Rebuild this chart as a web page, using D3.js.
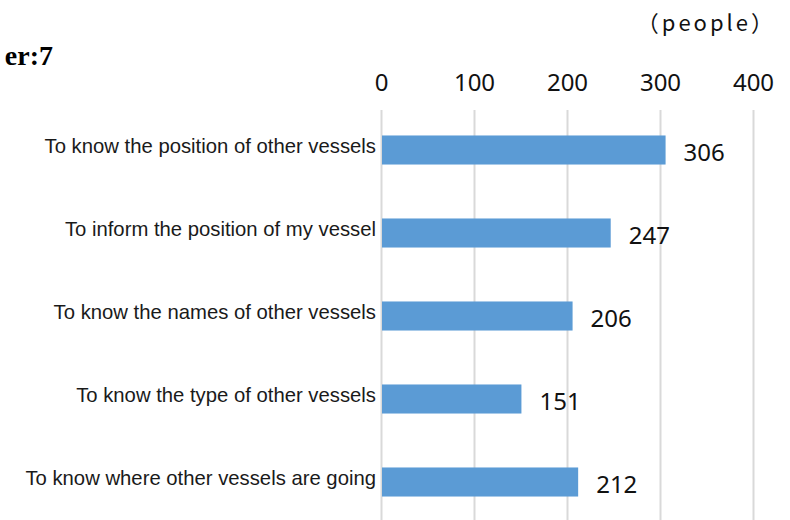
<!DOCTYPE html>
<html>
<head>
<meta charset="utf-8">
<script src="https://cdn.jsdelivr.net/npm/d3@7"></script>
<style>
  body { margin: 0; background: #fff; }
</style>
</head>
<body>
<div id="chart"></div>
<script>
// data
const categories = [
    "To know the position of other vessels",
    "To inform the position of my vessel",
    "To know the names of other vessels",
    "To know the type of other vessels",
    "To know where other vessels are going"
];
const values = [306, 247, 206, 151, 212];
const tickValues = [0, 100, 200, 300, 400];
const unitLabel = "（people）";
const cornerLabel = "er:7";

const width = 790, height = 520;
const margin = {top: 110, left: 381, right: 37};

const svg = d3.select("#chart").append("svg")
    .attr("width", width)
    .attr("height", height);

const x = d3.scaleLinear()
    .domain([0, 400])
    .range([margin.left, width - margin.right]);

const y = d3.scaleBand()
    .domain(categories)
    .range([108.5, 523.5])
    .paddingInner(0.65)
    .paddingOuter(0.325);

// gridlines + tick labels on top
const axis = svg.append("g")
    .attr("class", "xAxis")
    .attr("transform", `translate(0,${margin.top})`)
    .call(d3.axisTop(x).tickValues(tickValues).tickSize(-(height - margin.top)).tickPadding(19));
axis.select(".domain").remove();
axis.selectAll(".tick line")
    .attr("stroke", "#d9d9d9")
    .attr("stroke-width", 2);
axis.selectAll(".tick text")
    .attr("font-family", "'Noto Sans', sans-serif")
    .attr("font-size", 24)
    .attr("fill", "#111");

// bars
const barG = svg.selectAll(".barG")
    .data(categories.map((c, i) => ({cat: c, val: values[i]})))
    .join("g")
    .attr("class", "barG");

barG.append("rect")
    .attr("x", x(0) + 1)
    .attr("y", d => y(d.cat))
    .attr("width", d => x(d.val) - x(0) - 1)
    .attr("height", y.bandwidth())
    .attr("fill", "#5b9bd5");

// value labels
barG.append("text")
    .attr("x", d => x(d.val) + 18)
    .attr("y", d => y(d.cat) + y.bandwidth() / 2 + 11)
    .attr("font-family", "'Noto Sans', sans-serif")
    .attr("font-size", 24)
    .attr("fill", "#111")
    .text(d => d.val);

// category labels
barG.append("text")
    .attr("x", 376)
    .attr("y", d => y(d.cat) + y.bandwidth() / 2 + 3)
    .attr("text-anchor", "end")
    .attr("font-family", "'Liberation Sans', Arial, sans-serif")
    .attr("font-size", 20.3)
    .attr("fill", "#1a1a1a")
    .text(d => d.cat);

// unit label
svg.append("text")
    .attr("x", 776)
    .attr("y", 31)
    .attr("text-anchor", "end")
    .attr("font-family", "'Noto Sans CJK JP', sans-serif")
    .attr("font-size", 22)
    .attr("letter-spacing", 3)
    .attr("fill", "#111")
    .text(unitLabel);

// cut-off title fragment at left
svg.append("text")
    .attr("x", 53)
    .attr("y", 65)
    .attr("text-anchor", "end")
    .attr("font-family", "'Liberation Serif', 'Times New Roman', serif")
    .attr("font-weight", "bold")
    .attr("font-size", 28)
    .attr("fill", "#000")
    .text(cornerLabel);
</script>
</body>
</html>
